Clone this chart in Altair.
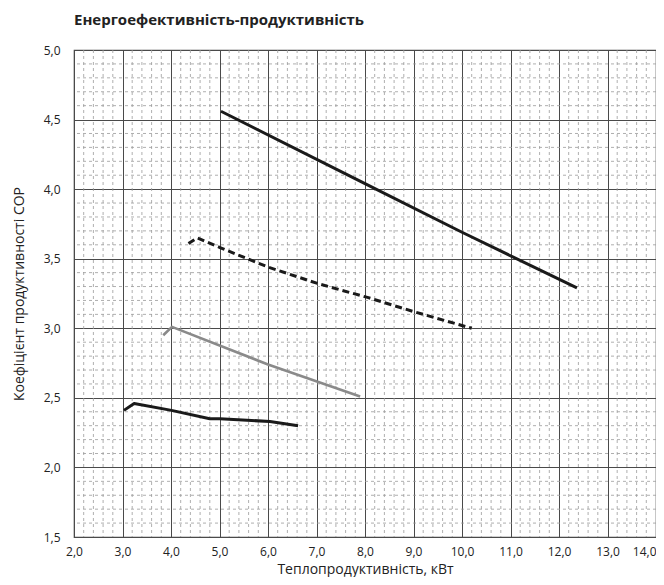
import altair as alt
import numpy as np
import pandas as pd

# Series (heating capacity kW, COP)
s1_x = [5.03, 8.0, 10.0, 12.37]
s1_y = [4.56, 4.04, 3.69, 3.29]
s2_x = [4.36, 4.54, 5.01, 6.0, 7.04, 8.07, 9.0, 10.2]
s2_y = [3.61, 3.65, 3.58, 3.44, 3.32, 3.22, 3.12, 3.00]
s3_x = [3.84, 4.02, 6.0, 7.9]
s3_y = [2.95, 3.01, 2.74, 2.51]
s4_x = [3.03, 3.24, 4.01, 4.80, 5.01, 6.04, 6.62]
s4_y = [2.41, 2.46, 2.41, 2.35, 2.35, 2.33, 2.30]

x_major = [2, 3, 4, 5, 6, 7, 8, 9, 10, 11, 12, 13, 14]
y_major = [1.5, 2.0, 2.5, 3.0, 3.5, 4.0, 4.5, 5.0]

x_minor = [round(v, 2) for v in np.arange(2.0, 14.001, 0.2) if abs(v - round(v)) > 1e-6]
y_minor = [round(v, 2) for v in np.arange(1.5, 5.001, 0.1) if abs(v * 2 - round(v * 2)) > 1e-6]

def mk(xs, ys):
    return pd.DataFrame({"x": xs, "y": ys, "i": list(range(len(xs)))})

xs = alt.Scale(domain=[2, 14], nice=False, zero=False)
ys = alt.Scale(domain=[1.5, 5.0], nice=False, zero=False)

lab = "replace(format(datum.value, '.1f'), '.', ',')"

x_axis = alt.Axis(
    values=x_major, labelExpr=lab, title="Теплопродуктивність, кВт",
    grid=True, gridColor="#4a4a4a", gridWidth=1, ticks=False, domain=False,
    labelPadding=9, labelFontSize=12, titleFontSize=14,
    titleY=36, titleBaseline="alphabetic",
    labelFont="Open Sans", titleFont="Open Sans", titleFontWeight="normal",
    labelColor="#222", titleColor="#222", labelFlush=False,
    labelAlign={"condition": {"test": "datum.value >= 14", "value": "right"},
                "value": "center"})
y_axis = alt.Axis(
    values=y_major, labelExpr=lab, title="Коефіцієнт продуктивності COP",
    grid=True, gridColor="#4a4a4a", gridWidth=1, ticks=False, domain=False,
    labelPadding=14, labelFontSize=12, titleFontSize=14,
    titleX=-51, titleY=243.5, titleAngle=270, titleAlign="center",
    titleBaseline="alphabetic",
    labelFont="Open Sans", titleFont="Open Sans", titleFontWeight="normal",
    labelColor="#222", titleColor="#222", labelFlush=False)

X = lambda: alt.X("x:Q", scale=xs, axis=x_axis)
Y = lambda: alt.Y("y:Q", scale=ys, axis=y_axis)

grid_x = alt.Chart(pd.DataFrame({"x": x_minor})).mark_rule(
    color="#9a9a9a", strokeDash=[3, 3], strokeWidth=0.8).encode(x=X())
grid_y = alt.Chart(pd.DataFrame({"y": y_minor})).mark_rule(
    color="#9a9a9a", strokeDash=[3, 3], strokeWidth=0.8).encode(y=Y())

def line(xs_, ys_, color, width, dash=None):
    kw = dict(color=color, strokeWidth=width, strokeCap="butt", strokeJoin="round")
    if dash:
        kw["strokeDash"] = dash
    return alt.Chart(mk(xs_, ys_)).mark_line(**kw).encode(
        x=X(), y=Y(), order="i:O")

l1 = line(s1_x, s1_y, "#1a1a1a", 3)
l2 = line(s2_x, s2_y, "#1a1a1a", 3, [7, 4])
l3 = line(s3_x, s3_y, "#8a8a8a", 2.6)
l4 = line(s4_x, s4_y, "#1a1a1a", 3)

chart = alt.layer(grid_x, grid_y, l1, l2, l3, l4).properties(
    width=582, height=487,
    title=alt.TitleParams("Енергоефективність-продуктивність", anchor="start",
                          frame="group", fontSize=15, fontWeight="bold",
                          font="Open Sans", color="#222", offset=16),
    autosize=alt.AutoSizeParams(type="none"),
    padding={"left": 66, "top": 42, "right": 0, "bottom": 40},
).configure_view(stroke="#444444", strokeWidth=1.2)

chart.save("out.html", embed_options={"renderer": "svg", "actions": False})
